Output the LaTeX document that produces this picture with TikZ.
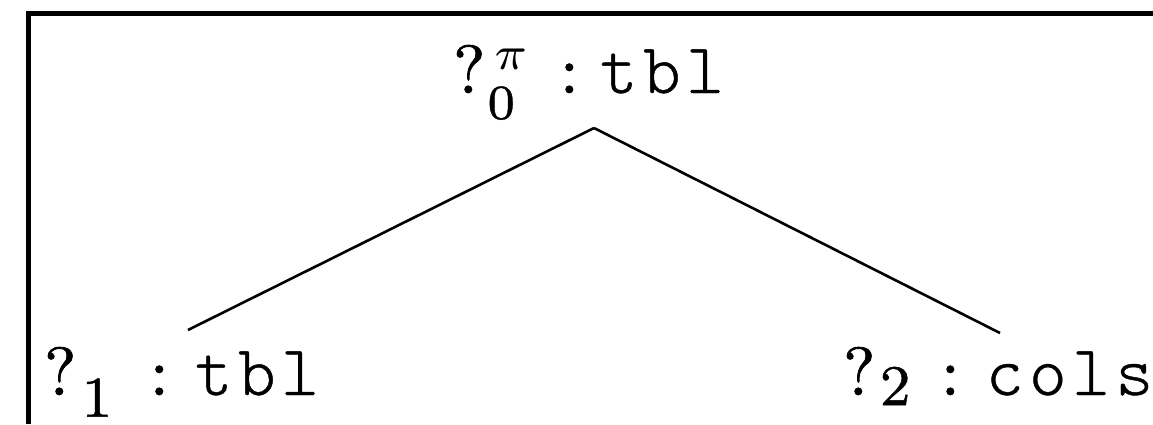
\documentclass[tikz,border=0pt]{standalone}
\usepackage{graphicx}
\usepackage{fontspec}
\newfontfamily\courlike{lmmonolt10-regular.otf}[FakeBold=0.6]
\newfontfamily\hrmA{lmroman10-regular.otf}[FakeBold=1.2]
\newfontfamily\hrmB{lmroman7-regular.otf}[FakeBold=0.8]
\newfontfamily\hrmC{lmroman8-regular.otf}[FakeBold=0.8]
\newcommand{\mc}[1]{\makebox[6.35pt]{#1}}
\newcommand{\szA}{\hrmB\fontsize{7.2pt}{8pt}\selectfont}
\newcommand{\szB}{\hrmC\fontsize{8.5pt}{9pt}\selectfont}
\newcommand{\bfnt}{\hrmA\fontsize{10pt}{12pt}\selectfont}
\newcommand{\tfont}{\courlike\fontsize{10.5pt}{12pt}\selectfont}
\begin{document}
\begin{tikzpicture}[x=1pt,y=1pt,
  lbl/.style={anchor=base west,inner sep=0pt},
  edge/.style={line width=2.6pt}]
\useasboundingbox (0,-424) rectangle (1153,0);
\draw[line width=5pt] (28.5,-424) -- (28.5,-13.5) -- (1160,-13.5);
\node[lbl] (root) at (453,-93) {\scalebox{6.8}{\bfnt ?\kern0.3pt\rlap{\kern1pt\raisebox{3.5pt}{$\scriptstyle\pi$}}\raisebox{-3.8pt}{\szA 0}\kern6.57pt:\kern2.7pt\tfont\mc{t}\mc{b}\mc{l}}};
\node[lbl] (left) at (44,-395) {\scalebox{6.8}{\bfnt ?\kern0.76pt\raisebox{-3.2pt}{\szB 1}\kern5.54pt:\kern3.44pt\tfont\mc{t}\mc{b}\mc{l}}};
\node[lbl] (right) at (843,-395) {\scalebox{6.8}{\bfnt ?\kern0.66pt\raisebox{-1.5pt}{\szB 2}\kern4.47pt:\kern3.44pt\tfont\mc{c}\mc{o}\mc{l}\mc{s}}};
\coordinate (rb) at (594,-128);
\coordinate (lt) at (188,-330);
\coordinate (rt) at (1000,-333);
\draw[edge] (rb) -- (lt);
\draw[edge] (rb) -- (rt);
\end{tikzpicture}
\end{document}
